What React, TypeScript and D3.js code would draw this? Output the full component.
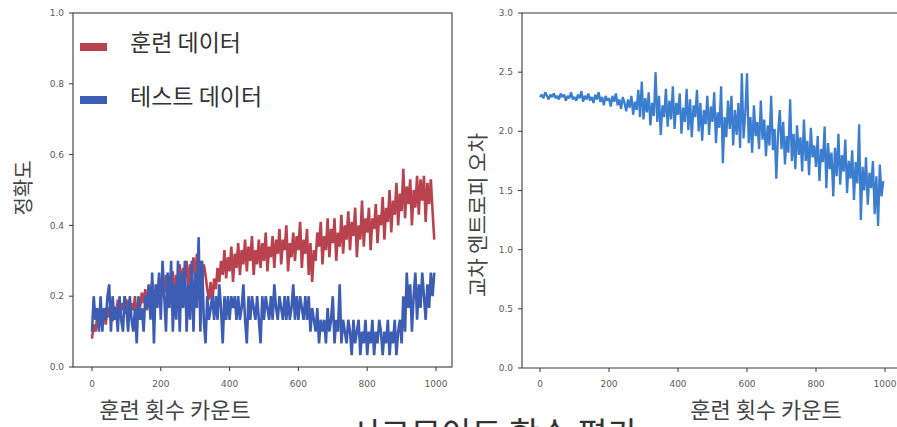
import React from "react";
import * as d3 from "d3";

// one sample every STEP training iterations
const STEP = 5;
const TEST_SIZE = 30;

// training accuracy, percent
const trainAccPct = [
  8, 12, 10, 14, 11, 15, 13, 16, 12, 17,
  14, 18, 13, 17, 15, 19, 14, 18, 16, 20,
  15, 19, 14, 18, 16, 20, 13, 19, 17, 21,
  18, 22, 16, 23, 19, 24, 17, 22, 20, 25,
  19, 24, 21, 26, 18, 25, 22, 27, 20, 26,
  24, 29, 22, 28, 25, 30, 23, 29, 26, 31,
  25, 32, 27, 30, 24, 29, 26, 22, 19, 24,
  18, 25, 22, 28, 24, 30, 26, 33, 25, 31,
  27, 34, 24, 32, 28, 35, 26, 33, 29, 36,
  27, 34, 30, 37, 26, 33, 29, 36, 28, 35,
  30, 38, 27, 34, 31, 37, 28, 36, 32, 39,
  29, 36, 33, 40, 27, 35, 31, 38, 30, 37,
  33, 41, 28, 36, 32, 39, 26, 35, 24, 33,
  30, 38, 34, 41, 29, 37, 33, 42, 31, 39,
  35, 42, 30, 38, 34, 43, 32, 40, 36, 44,
  33, 41, 37, 45, 31, 40, 36, 47, 34, 42,
  38, 45, 33, 42, 39, 46, 35, 43, 40, 48,
  36, 45, 41, 50, 38, 47, 43, 52, 40, 49,
  44, 56, 42, 51, 46, 53, 40, 50, 45, 54,
  43, 53, 47, 54, 41, 52, 46, 53, 44, 36,
];

// correct answers out of TEST_SIZE test samples
const testHits = [
  3, 6, 4, 5, 3, 6, 3, 5, 4, 6,
  7, 3, 6, 4, 5, 3, 6, 4, 3, 6,
  5, 3, 6, 4, 3, 5, 2, 6, 4, 5,
  3, 6, 5, 7, 4, 8, 2, 7, 5, 8,
  4, 9, 6, 3, 8, 5, 9, 3, 7, 4,
  9, 3, 8, 5, 9, 3, 7, 4, 9, 3,
  8, 5, 11, 3, 9, 4, 2, 6, 4, 5,
  6, 4, 6, 4, 7, 5, 2, 6, 4, 6,
  4, 6, 5, 6, 4, 6, 4, 5, 7, 4,
  2, 6, 4, 6, 5, 4, 6, 4, 2, 6,
  4, 6, 5, 4, 6, 4, 7, 5, 4, 6,
  5, 4, 6, 4, 6, 4, 5, 7, 4, 6,
  4, 6, 5, 4, 6, 4, 6, 3, 5, 4,
  3, 5, 2, 4, 3, 4, 2, 5, 3, 4,
  6, 2, 4, 3, 7, 2, 4, 3, 2, 4,
  3, 1, 4, 2, 3, 4, 1, 3, 2, 4,
  1, 3, 2, 4, 1, 3, 2, 4, 3, 1,
  3, 2, 4, 1, 3, 2, 4, 1, 3, 4,
  2, 6, 3, 8, 5, 7, 3, 6, 8, 4,
  7, 5, 8, 6, 4, 7, 5, 8, 6, 8,
];

// cross-entropy loss
const loss = [
  2.29, 2.31, 2.28, 2.33, 2.30, 2.27, 2.31, 2.29, 2.32, 2.28,
  2.30, 2.27, 2.32, 2.29, 2.31, 2.26, 2.30, 2.28, 2.33, 2.27,
  2.29, 2.26, 2.31, 2.28, 2.34, 2.25, 2.30, 2.27, 2.32, 2.26,
  2.29, 2.24, 2.31, 2.27, 2.33, 2.25, 2.29, 2.22, 2.30, 2.26,
  2.28, 2.21, 2.30, 2.25, 2.32, 2.22, 2.27, 2.19, 2.29, 2.24,
  2.17, 2.27, 2.20, 2.30, 2.14, 2.25, 2.18, 2.35, 2.12, 2.42,
  2.10, 2.28, 2.16, 2.33, 2.05, 2.24, 2.13, 2.50, 2.08, 2.30,
  1.97, 2.22, 2.12, 2.36, 2.04, 2.26, 2.10, 2.38, 2.02, 2.24,
  2.14, 2.32, 1.98, 2.20, 2.08, 2.36, 2.01, 2.27, 1.95, 2.22,
  2.12, 2.35, 2.00, 2.24, 1.92, 2.18, 2.06, 2.30, 1.97, 2.21,
  2.08, 2.33, 1.90, 2.16, 2.03, 2.38, 1.73, 2.12, 1.95, 2.26,
  2.02, 2.30, 1.88, 2.18, 1.97, 2.24, 1.86, 2.49, 1.94, 2.15,
  2.49, 1.90, 2.12, 1.82, 2.22, 1.96, 2.08, 1.85, 2.26, 1.93,
  2.10, 1.79, 2.05, 1.88, 2.30, 1.84, 2.02, 1.60, 1.98, 2.18,
  1.85, 2.08, 1.72, 1.96, 1.82, 2.27, 1.75, 1.98, 1.68, 2.05,
  1.80, 1.95, 1.66, 2.10, 1.75, 1.92, 1.63, 2.03, 1.78, 1.88,
  1.70, 1.96, 1.58, 1.85, 1.74, 2.04, 1.52, 1.90, 1.68, 1.82,
  1.45, 1.86, 1.62, 1.98, 1.55, 1.80, 1.66, 1.93, 1.48, 1.75,
  1.60, 1.84, 1.42, 1.74, 1.56, 2.06, 1.25, 1.70, 1.50, 1.78,
  1.38, 1.65, 1.52, 1.75, 1.30, 1.62, 1.20, 1.72, 1.45, 1.58,
];

const xTicks = [0, 200, 400, 600, 800, 1000];
const accTicks = [0, 0.2, 0.4, 0.6, 0.8, 1.0];
const lossTicks = [0, 0.5, 1.0, 1.5, 2.0, 2.5, 3.0];

const legendItems = [
  { label: "훈련 데이터", color: "#b8434f" },
  { label: "테스트 데이터", color: "#3d5db5" },
];

const KR = "'Noto Sans CJK KR', 'Noto Sans', sans-serif";
const TICK_FONT = "'DejaVu Sans', sans-serif";
const FRAME = "#3a3a3a";
const TICK_TXT = "#5a5a5a";

export default function App() {
  const xL = d3.scaleLinear().domain([0, 1000]).range([92, 436]);
  const yL = d3.scaleLinear().domain([0, 1]).range([367, 13]);
  const xR = d3.scaleLinear().domain([0, 1000]).range([540, 885]);
  const yR = d3.scaleLinear().domain([0, 3]).range([368, 13]);

  const accLine = d3
    .line<number>()
    .x((_, i) => xL(i * STEP))
    .y((d) => yL(d));
  const lossLine = d3
    .line<number>()
    .x((_, i) => xR(i * STEP))
    .y((d) => yR(d));

  const trainPath = accLine(trainAccPct.map((v) => v / 100)) || "";
  const testPath = accLine(testHits.map((v) => v / TEST_SIZE)) || "";
  const lossPath = lossLine(loss) || "";

  return (
    <svg
      width={897}
      height={427}
      style={{ position: "fixed", left: 0, top: 0, background: "#fff" }}
    >
      <rect width={897} height={427} fill="#fff" />

      {/* left panel: accuracy */}
      <path d={trainPath} fill="none" stroke="#b8434f" strokeWidth={2.6} strokeLinejoin="bevel" />
      <path d={testPath} fill="none" stroke="#3d5db5" strokeWidth={2.6} strokeLinejoin="bevel" />
      <rect x={73} y={13} width={379} height={354} fill="none" stroke={FRAME} strokeWidth={1.1} />
      {accTicks.map((t) => (
        <g key={"ya" + t}>
          <line x1={69} x2={73} y1={yL(t)} y2={yL(t)} stroke={FRAME} />
          <text x={64} y={yL(t)} dy="0.35em" textAnchor="end" fontFamily={TICK_FONT} fontSize={9} fill={TICK_TXT}>
            {t.toFixed(1)}
          </text>
        </g>
      ))}
      {xTicks.map((t) => (
        <g key={"xa" + t}>
          <line x1={xL(t)} x2={xL(t)} y1={367} y2={371} stroke={FRAME} />
          <text x={xL(t)} y={384} dy="0.35em" textAnchor="middle" fontFamily={TICK_FONT} fontSize={9} fill={TICK_TXT}>
            {t}
          </text>
        </g>
      ))}
      {legendItems.map((it, i) => (
        <g key={it.label}>
          <rect x={80} y={43 + i * 53} width={27} height={8} fill={it.color} />
          <text x={130} y={41 + i * 54} dominantBaseline="central" fontFamily={KR} fontSize={23} fill="#333">
            {it.label}
          </text>
        </g>
      ))}
      <text
        transform="translate(22,188) rotate(-90)"
        textAnchor="middle"
        dominantBaseline="central"
        fontFamily={KR}
        fontSize={20}
        fill="#444"
      >
        정확도
      </text>
      <text x={175} y={408} textAnchor="middle" dominantBaseline="central" fontFamily={KR} fontSize={22} fill="#444">
        훈련 횟수 카운트
      </text>

      {/* right panel: loss */}
      <path d={lossPath} fill="none" stroke="#3b7dcf" strokeWidth={2.3} strokeLinejoin="bevel" />
      <line x1={522} x2={522} y1={13} y2={368} stroke={FRAME} strokeWidth={1.1} />
      <line x1={522} x2={897} y1={13} y2={13} stroke={FRAME} strokeWidth={1.1} />
      <line x1={522} x2={897} y1={368} y2={368} stroke={FRAME} strokeWidth={1.1} />
      {lossTicks.map((t) => (
        <g key={"yr" + t}>
          <line x1={518} x2={522} y1={yR(t)} y2={yR(t)} stroke={FRAME} />
          <text x={513} y={yR(t)} dy="0.35em" textAnchor="end" fontFamily={TICK_FONT} fontSize={9} fill={TICK_TXT}>
            {t.toFixed(1)}
          </text>
        </g>
      ))}
      {xTicks.map((t) => (
        <g key={"xr" + t}>
          <line x1={xR(t)} x2={xR(t)} y1={368} y2={372} stroke={FRAME} />
          <text x={xR(t)} y={384} dy="0.35em" textAnchor="middle" fontFamily={TICK_FONT} fontSize={9} fill={TICK_TXT}>
            {t}
          </text>
        </g>
      ))}
      <text
        transform="translate(476,215) rotate(-90)"
        textAnchor="middle"
        dominantBaseline="central"
        fontFamily={KR}
        fontSize={21}
        fill="#444"
      >
        교차 엔트로피 오차
      </text>
      <text x={766} y={408} textAnchor="middle" dominantBaseline="central" fontFamily={KR} fontSize={22} fill="#444">
        훈련 횟수 카운트
      </text>

      {/* figure title, cut off by the bottom edge as in the source */}
      <text x={350} y={446} fontFamily={KR} fontSize={33} fill="#333">
        시그모이드 함수 평가
      </text>
    </svg>
  );
}
